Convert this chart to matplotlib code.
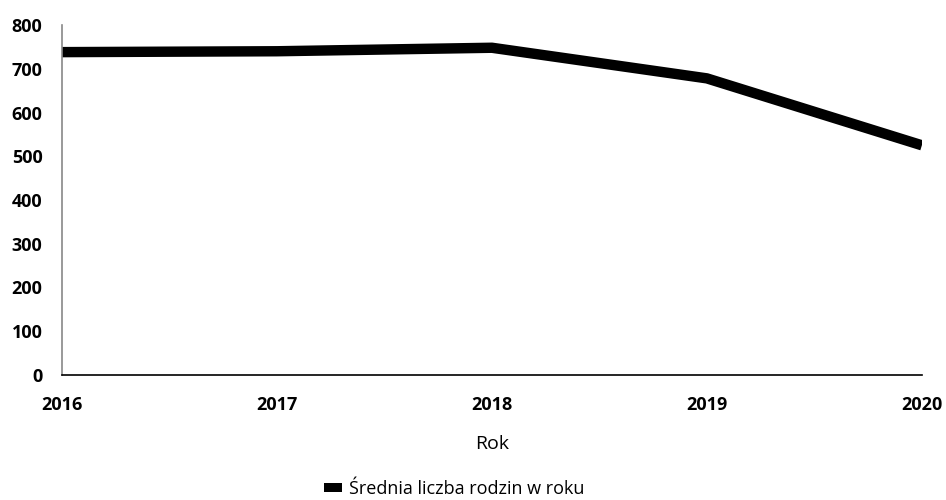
import matplotlib.pyplot as plt
from matplotlib.patches import Patch

# dane: średnia liczba rodzin w kolejnych latach
lata = [2016, 2017, 2018, 2019, 2020]
srednia_rodzin = [738, 740, 748, 678, 525]
y_ticks = [0, 100, 200, 300, 400, 500, 600, 700, 800]

plt.rcParams['font.family'] = ['Open Sans', 'DejaVu Sans']

fig = plt.figure(figsize=(9.46, 5), dpi=100)
ax = fig.add_axes([0.0655, 0.25, 0.909, 0.70])

ax.plot(lata, srednia_rodzin, color='black', linewidth=7.5, solid_capstyle='butt',
        solid_joinstyle='round')

ax.set_xlim(lata[0], lata[-1])
ax.set_ylim(0, 800)
ax.set_xticks(lata)
ax.set_yticks(y_ticks)
ax.tick_params(length=0, labelsize=13)
ax.tick_params(axis='x', pad=15)
ax.tick_params(axis='y', pad=14)
for lab in ax.get_xticklabels() + ax.get_yticklabels():
    lab.set_fontweight('bold')

for s in ['top', 'right']:
    ax.spines[s].set_visible(False)
ax.spines['left'].set_color('#888888')
ax.spines['left'].set_linewidth(1.2)
ax.spines['bottom'].set_color('black')
ax.spines['bottom'].set_linewidth(1.2)

ax.set_xlabel('Rok', fontsize=14, labelpad=15)

legenda = [Patch(facecolor='black', label='Średnia liczba rodzin w roku')]
fig.legend(handles=legenda, loc='center', bbox_to_anchor=(0.48, 0.022), frameon=False,
           fontsize=13, handlelength=1.0, handleheight=0.45, handletextpad=0.4)

fig.savefig('out.png', dpi=100)
